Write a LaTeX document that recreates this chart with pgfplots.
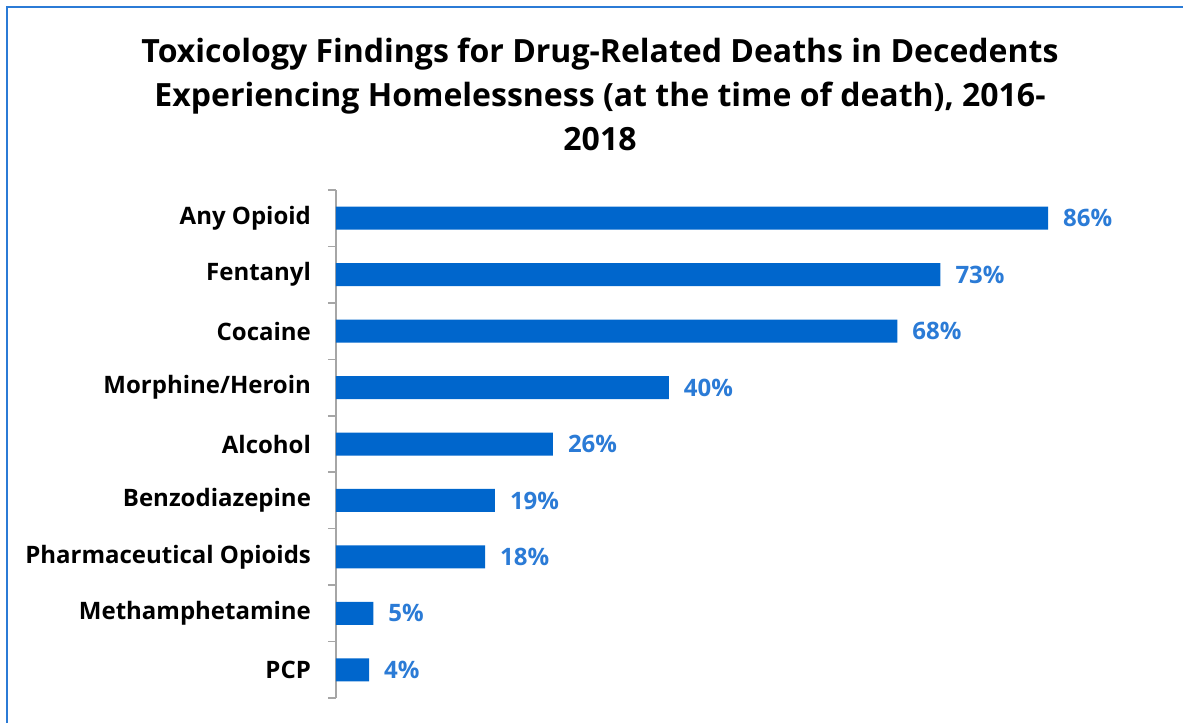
\documentclass[border=0pt]{standalone}
\usepackage{fontspec}
\setmainfont{Open Sans}
\usepackage{pgfplots}
\pgfplotsset{compat=1.18}
\definecolor{barblue}{HTML}{0066CC}
\definecolor{lblblue}{HTML}{2B7BD6}
\definecolor{axgray}{HTML}{A6A6A6}
\begin{document}
\begin{tikzpicture}
\useasboundingbox (0,0) rectangle (591.5pt,361.5pt);
\draw[lblblue, line width=1.25pt] (3.5pt,0) -- (3.5pt,358pt) -- (591.5pt,358pt);
\node[align=center, font=\fontsize{16}{22}\selectfont\bfseries] at (300pt,314.5pt)
  {Toxicology Findings for Drug-Related Deaths in Decedents\\
   Experiencing Homelessness (at the time of death), 2016-\\
   2018};
\begin{axis}[
  at={(168pt,12.5pt)}, anchor=south west,
  scale only axis, width=414pt, height=254pt,
  xmin=0, xmax=100, ymin=-0.5, ymax=8.5,
  axis x line=none, axis y line*=left,
  y axis line style={axgray, line width=0.75pt, -},
  ytick={0,...,8},
  yticklabels={PCP,Methamphetamine,Pharmaceutical Opioids,Benzodiazepine,Alcohol,Morphine/Heroin,Cocaine,Fentanyl,Any Opioid},
  major tick length=0pt,
  minor ytick={-0.5,0.5,...,8.5},
  minor tick length=4pt, tick align=outside,
  minor tick style={axgray, line width=0.75pt},
  yticklabel style={font=\fontsize{12}{14}\selectfont\bfseries, xshift=-9pt},
  xbar, bar width=11.5pt,
  /pgf/number format/assume math mode=true,
  point meta=explicit,
  nodes near coords={\pgfmathprintnumber{\pgfplotspointmeta}\%},
  nodes near coords style={font=\fontsize{12}{14}\selectfont\bfseries, text=lblblue, anchor=west, xshift=4pt},
  clip=false,
]
\addplot[fill=barblue, draw=none] coordinates {
(4,0) [4] (4.5,1) [5] (18,2) [18] (19.2,3) [19] (26.2,4) [26] (40.2,5) [40] (67.8,6) [68] (73,7) [73] (86,8) [86]};
\end{axis}
\end{tikzpicture}
\end{document}
